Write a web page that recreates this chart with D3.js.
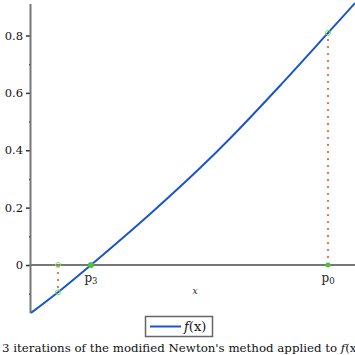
<!DOCTYPE html>
<html><head>
<script src="https://d3js.org/d3.v7.min.js"></script>
<style>
  body { margin: 0; background: #fff; }
  text { font-family: "DejaVu Serif", serif; }
</style>
</head>
<body>
<div id="chart"></div>
<script>
// curve samples
const curveX = [0, 0.1, 0.222, 0.441, 0.626, 0.737, 0.922, 1.1, 1.2];
const curveY = [-0.167, -0.095, 0, 0.178, 0.338, 0.441, 0.625, 0.809, 0.913];
// iteration markers
const p0 = 1.1, fp0 = 0.809;
const p1 = 0.1, fp1 = -0.095;
const p3 = 0.222;
const yTicks = [0, 0.2, 0.4, 0.6, 0.8];
const yMinor = [-0.1, 0.1, 0.3, 0.5, 0.7];

const width = 355, height = 355;
const svg = d3.select("#chart").append("svg")
    .attr("width", width).attr("height", height);

const xScale = d3.scaleLinear().domain([0, 1.2]).range([31, 355]);
const yScale = d3.scaleLinear().domain([0, 0.8]).range([265, 35.5]);

const axisColor = "#777";

// y axis
let leftAxis = d3.axisLeft(yScale).tickValues(yTicks).tickSize(5).tickPadding(3)
    .tickFormat(d => d === 0 ? "0" : d3.format(".1f")(d));
let yAxisG = svg.append("g")
    .attr("transform", "translate(" + xScale(0) + ",0)")
    .call(leftAxis);
yAxisG.select(".domain").remove();
yAxisG.selectAll(".tick line").attr("stroke", "#333").attr("stroke-width", 1.5);
yAxisG.selectAll(".tick text").attr("font-size", 11.5).attr("font-family", "DejaVu Serif").attr("fill", "#111");

let minorAxis = d3.axisLeft(yScale).tickValues(yMinor).tickSize(2).tickFormat("");
let minorG = svg.append("g")
    .attr("transform", "translate(" + xScale(0) + ",0)")
    .call(minorAxis);
minorG.select(".domain").remove();
minorG.selectAll(".tick line").attr("stroke", "#333").attr("stroke-width", 1.5);

svg.append("line")
    .attr("x1", xScale(0) - 0.5).attr("x2", xScale(0) - 0.5)
    .attr("y1", yScale(0.91)).attr("y2", yScale(-0.168))
    .attr("stroke", axisColor).attr("stroke-width", 2);

// x axis
svg.append("line")
    .attr("x1", xScale(0) - 1).attr("x2", xScale(1.2))
    .attr("y1", yScale(0)).attr("y2", yScale(0))
    .attr("stroke", axisColor).attr("stroke-width", 2);

// dotted verticals
[[p0, fp0], [p1, fp1]].forEach(p => {
  svg.append("line")
      .attr("x1", xScale(p[0])).attr("x2", xScale(p[0]))
      .attr("y1", yScale(0)).attr("y2", yScale(p[1]))
      .attr("stroke", "#f07850").attr("stroke-width", 2)
      .attr("stroke-dasharray", "2,5");
});

// the function
let lineGen = d3.line()
    .x((d, i) => xScale(curveX[i]))
    .y(d => yScale(d))
    .curve(d3.curveCatmullRom);
svg.append("path")
    .datum(curveY)
    .attr("fill", "none")
    .attr("stroke", "#1a56c8")
    .attr("stroke-width", 2)
    .attr("d", lineGen);

// iteration points
const openPts = [[p1, 0], [p1, fp1], [p0, fp0]];
svg.selectAll("circle.open").data(openPts).enter().append("circle")
    .attr("cx", d => xScale(d[0])).attr("cy", d => yScale(d[1]))
    .attr("r", 2.5).attr("fill", "none")
    .attr("stroke", "#7fe060").attr("stroke-width", 1);
svg.append("circle").attr("cx", xScale(p3)).attr("cy", yScale(0))
    .attr("r", 3).attr("fill", "#50c040");
svg.append("circle").attr("cx", xScale(p0)).attr("cy", yScale(0))
    .attr("r", 2.5).attr("fill", "#50c040");

// labels
function pLabel(x, sub) {
  let t = svg.append("text").attr("x", xScale(x)).attr("y", yScale(0) + 17)
      .attr("text-anchor", "middle").attr("font-size", 12).attr("fill", "#222");
  t.append("tspan").text("p");
  t.append("tspan").attr("font-size", 8.5).attr("dy", 2).text(sub);
}
pLabel(p3, "3");
pLabel(p0, "0");

svg.append("text").attr("x", 195).attr("y", 294)
    .attr("text-anchor", "middle").attr("font-size", 9)
    .attr("font-style", "italic").attr("fill", "#222").text("x");

// legend
svg.append("rect").attr("x", 145.5).attr("y", 316.5).attr("width", 67).attr("height", 20)
    .attr("fill", "none").attr("stroke", "#666").attr("stroke-width", 1.5);
svg.append("line").attr("x1", 150).attr("x2", 181).attr("y1", 326.5).attr("y2", 326.5)
    .attr("stroke", "#1a56c8").attr("stroke-width", 2);
let lt = svg.append("text").attr("x", 184).attr("y", 331).attr("font-size", 13).attr("fill", "#111");
lt.append("tspan").attr("font-style", "italic").text("f");
lt.append("tspan").text("(x)");

// caption (cut at the right edge, as in the original)
let cap = svg.append("text").attr("x", 2).attr("y", 352).attr("font-size", 11.8).attr("fill", "#111");
cap.append("tspan").text("3 iterations of the modified Newton's method applied to ");
cap.append("tspan").attr("font-style", "italic").text("f");
cap.append("tspan").text("(x)");
</script>
</body></html>
